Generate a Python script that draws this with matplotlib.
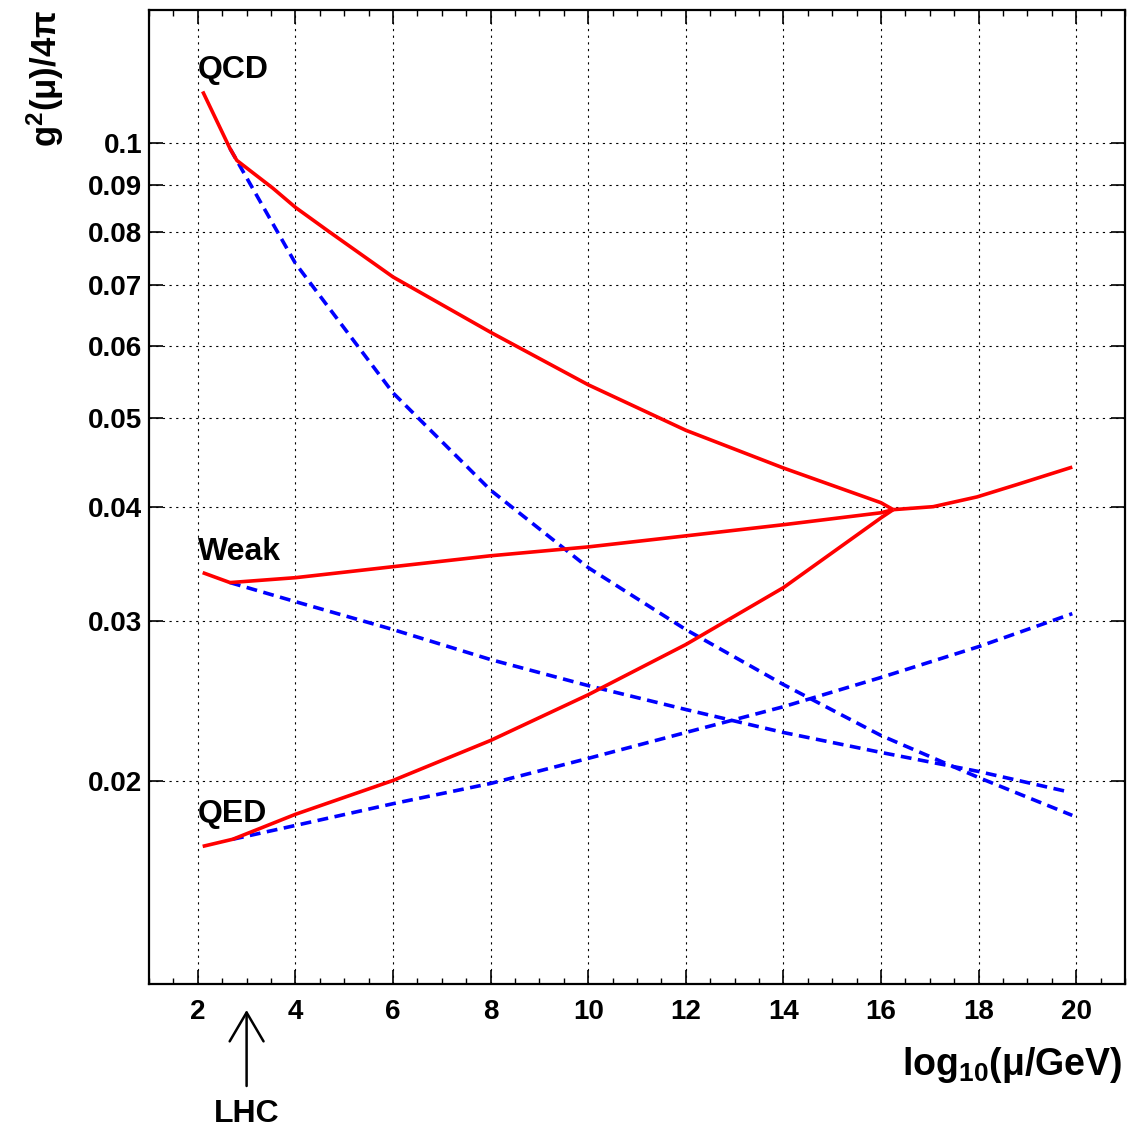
import matplotlib
matplotlib.use("Agg")
import matplotlib.pyplot as plt
from matplotlib.ticker import FixedLocator, FixedFormatter, NullLocator, MultipleLocator

plt.rcParams['font.family'] = ['Liberation Sans', 'DejaVu Sans']
plt.rcParams['font.weight'] = 'bold'
plt.rcParams['mathtext.fontset'] = 'custom'
plt.rcParams['mathtext.rm'] = 'Liberation Sans:bold'
plt.rcParams['mathtext.bf'] = 'Liberation Sans:bold'
plt.rcParams['mathtext.it'] = 'Liberation Sans:bold:italic'
plt.rcParams['mathtext.default'] = 'rm'

# ---- data (x = log10(mu/GeV), y = g^2/4pi) ----
qcd_x = [2.10, 2.66, 2.80, 3.54, 4.0, 4.71, 6.0, 8.0, 10.0, 12.0, 14.0, 16.0, 16.25]
qcd_y = [0.1140, 0.0987, 0.0958, 0.0893, 0.0851, 0.0799, 0.0714, 0.0621, 0.0544, 0.0485, 0.0441, 0.0404, 0.0397]

weak_x = [2.10, 2.66, 4.0, 6.0, 8.0, 10.0, 12.0, 14.0, 16.0, 16.25]
weak_y = [0.03387, 0.03303, 0.03344, 0.03438, 0.03534, 0.03614, 0.03716, 0.03822, 0.03939, 0.0397]

qed_x = [2.10, 2.72, 4.0, 6.0, 8.0, 10.0, 12.0, 14.0, 16.0, 16.25]
qed_y = [0.01698, 0.01729, 0.01841, 0.02005, 0.02218, 0.02489, 0.02825, 0.03261, 0.03889, 0.0397]

unified_x = [16.25, 17.07, 17.97, 18.79, 19.92]
unified_y = [0.0397, 0.0400, 0.0410, 0.0423, 0.0442]

sm_qcd_x = [2.66, 4.0, 6.0, 8.0, 10.0, 12.0, 14.0, 16.0, 18.0, 19.92]
sm_qcd_y = [0.0987, 0.0739, 0.0533, 0.0417, 0.0343, 0.02934, 0.02554, 0.02246, 0.02020, 0.01836]

sm_weak_x = [2.66, 4.0, 6.0, 8.0, 10.0, 12.0, 14.0, 16.0, 18.0, 19.81]
sm_weak_y = [0.03303, 0.03148, 0.02934, 0.02720, 0.02547, 0.02398, 0.02263, 0.02152, 0.02051, 0.01950]

sm_qed_x = [2.72, 4.0, 6.0, 8.0, 10.0, 12.0, 14.0, 16.0, 18.0, 19.92]
sm_qed_y = [0.01729, 0.01790, 0.01891, 0.01990, 0.02120, 0.02263, 0.02415, 0.02600, 0.02810, 0.03054]

y_ticks = [0.02, 0.03, 0.04, 0.05, 0.06, 0.07, 0.08, 0.09, 0.1]
y_tick_labels = ['0.02', '0.03', '0.04', '0.05', '0.06', '0.07', '0.08', '0.09', '0.1']
x_ticks = [2, 4, 6, 8, 10, 12, 14, 16, 18, 20]

labels = {'QCD': 0.1178, 'Weak': 0.03499, 'QED': 0.01804}
lhc_x = 3.0

fig = plt.figure(figsize=(11.29, 11.27), dpi=100)
ax = fig.add_axes([149/1129, (1127-984)/1127, (1125-149)/1129, (984-10)/1127])

red = '#ff0000'
blue = '#0000ff'
lw = 2.6
for x, y in [(qcd_x, qcd_y), (weak_x, weak_y), (qed_x, qed_y), (unified_x, unified_y)]:
    ax.plot(x, y, color=red, lw=lw, solid_joinstyle='round', solid_capstyle='butt', zorder=3)
for x, y in [(sm_qcd_x, sm_qcd_y), (sm_weak_x, sm_weak_y), (sm_qed_x, sm_qed_y)]:
    ax.plot(x, y, color=blue, lw=lw, dashes=(3.0, 1.8), zorder=2)

ax.set_yscale('log')
ax.set_xlim(1, 21)
ax.set_ylim(0.012, 0.14)

ax.yaxis.set_major_locator(FixedLocator(y_ticks))
ax.yaxis.set_major_formatter(FixedFormatter(y_tick_labels))
ax.yaxis.set_minor_locator(NullLocator())
ax.xaxis.set_major_locator(FixedLocator(x_ticks))
ax.xaxis.set_minor_locator(MultipleLocator(0.5))

ax.tick_params(axis='both', which='both', direction='in', top=True, right=True, color='black')
ax.tick_params(axis='both', which='major', length=10, width=1.2)
ax.tick_params(axis='x', which='minor', length=4.5, width=1.0)
ax.tick_params(axis='x', which='major', labelsize=20, pad=11)
ax.tick_params(axis='y', which='major', labelsize=20, pad=5)
for lab in ax.get_xticklabels() + ax.get_yticklabels():
    lab.set_fontweight('bold')

for s in ax.spines.values():
    s.set_linewidth(1.6)

ax.grid(True, which='major', color='black', lw=0.8, linestyle=(0, (2, 4)))
ax.set_axisbelow(True)

for name, yv in labels.items():
    ax.text(2.0, yv, name, fontsize=23, fontweight='bold', ha='left', va='baseline', zorder=4)

# x label
ax.text(1 - 3/976, (984-1075)/974, r'log$_{10}$(μ/GeV)', transform=ax.transAxes,
        ha='right', va='baseline', fontsize=27, fontweight='bold')
# y label
fig.text(57/1129, 1 - 10/1127, r'g$^{2}$(μ)/4π', rotation=90, rotation_mode='anchor',
         ha='right', va='baseline', fontsize=25, fontweight='bold')

# LHC arrow
ax.annotate('', xy=(lhc_x, (984-1010)/974), xytext=(lhc_x, (984-1086)/974),
            xycoords=('data', 'axes fraction'), textcoords=('data', 'axes fraction'),
            arrowprops=dict(arrowstyle='->,head_length=1.04,head_width=0.61', lw=1.8,
                            color='black', mutation_scale=20, shrinkA=0, shrinkB=0),
            annotation_clip=False)
ax.text(lhc_x, (984-1122)/974, 'LHC', transform=ax.get_xaxis_transform(),
        ha='center', va='baseline', fontsize=23, fontweight='bold')

fig.savefig('out.png', dpi=100)
